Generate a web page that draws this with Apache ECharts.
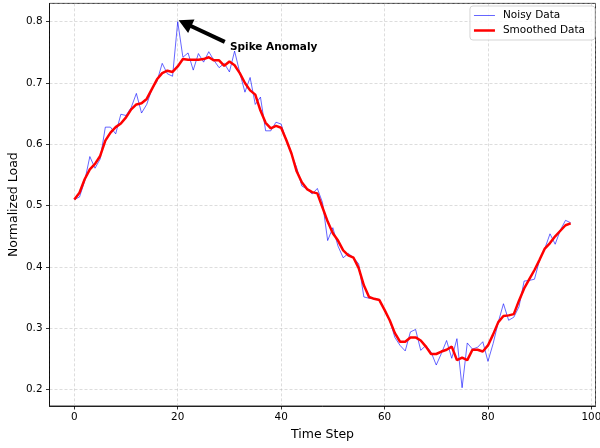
<!DOCTYPE html>
<html>
<head>
<meta charset="utf-8">
<script src="https://cdn.jsdelivr.net/npm/echarts@6.0.0/dist/echarts.min.js"></script>
<style>
  html, body { margin: 0; padding: 0; background: #fff; }
  #main { width: 600px; height: 448px; }
</style>
</head>
<body>
<div id="main"></div>
<script>
// values
var timeSteps = [0, 1, 2, 3, 4, 5, 6, 7, 8, 9, 10, 11, 12, 13, 14, 15, 16, 17, 18, 19,
  20, 21, 22, 23, 24, 25, 26, 27, 28, 29, 30, 31, 32, 33, 34, 35, 36, 37, 38, 39,
  40, 41, 42, 43, 44, 45, 46, 47, 48, 49, 50, 51, 52, 53, 54, 55, 56, 57, 58, 59,
  60, 61, 62, 63, 64, 65, 66, 67, 68, 69, 70, 71, 72, 73, 74, 75, 76, 77, 78, 79,
  80, 81, 82, 83, 84, 85, 86, 87, 88, 89, 90, 91, 92, 93, 94, 95, 96];

var noisyData = [
  0.510, 0.514, 0.540, 0.580, 0.561, 0.576, 0.628, 0.628, 0.617, 0.649,
  0.647, 0.660, 0.683, 0.651, 0.665, 0.690, 0.703, 0.732, 0.715, 0.711,
  0.800, 0.742, 0.749, 0.721, 0.748, 0.734, 0.751, 0.737, 0.725, 0.732,
  0.718, 0.752, 0.717, 0.685, 0.709, 0.665, 0.677, 0.622, 0.622, 0.636,
  0.633, 0.606, 0.584, 0.562, 0.532, 0.527, 0.519, 0.528, 0.505, 0.443,
  0.464, 0.434, 0.415, 0.422, 0.415, 0.405, 0.351, 0.349, 0.348, 0.347,
  0.330, 0.313, 0.285, 0.272, 0.263, 0.294, 0.298, 0.264, 0.272, 0.261,
  0.240, 0.259, 0.280, 0.251, 0.283, 0.203, 0.276, 0.266, 0.269, 0.278,
  0.246, 0.275, 0.310, 0.340, 0.313, 0.318, 0.335, 0.377, 0.378, 0.380,
  0.412, 0.430, 0.454, 0.437, 0.460, 0.476, 0.472
];

var smoothedData = [
  0.510, 0.521, 0.543, 0.559, 0.568, 0.581, 0.606, 0.619, 0.628, 0.634,
  0.644, 0.657, 0.665, 0.667, 0.674, 0.690, 0.706, 0.716, 0.720, 0.718,
  0.727, 0.739, 0.738, 0.738, 0.738, 0.739, 0.742, 0.737, 0.737, 0.728,
  0.735, 0.729, 0.716, 0.700, 0.688, 0.681, 0.655, 0.635, 0.626, 0.630,
  0.627, 0.607, 0.585, 0.556, 0.538, 0.527, 0.522, 0.520, 0.497, 0.474,
  0.455, 0.443, 0.427, 0.419, 0.415, 0.398, 0.370, 0.351, 0.348, 0.346,
  0.330, 0.313, 0.292, 0.278, 0.278, 0.285, 0.285, 0.280, 0.270, 0.258,
  0.258, 0.262, 0.265, 0.270, 0.248, 0.252, 0.248, 0.265, 0.265, 0.262,
  0.272, 0.290, 0.310, 0.320, 0.321, 0.323, 0.345, 0.365, 0.380, 0.395,
  0.412, 0.430, 0.439, 0.450, 0.459, 0.468, 0.471
];

// annotation: text anchor, arrow tail and arrow head (data coords)
var spikeLabel = 'Spike Anomaly';
var spikeTextAt = [30.1, 0.759];
var arrowTail = [29.1, 0.767];
var arrowHead = [21.4, 0.7974];

var font = 'DejaVu Sans';

function pairs(xs, ys) {
  return xs.map(function (x, i) { return [x, ys[i]]; });
}

var myChart = echarts.init(document.getElementById('main'), null, { renderer: 'canvas' });

var option = {
  animation: false,
  backgroundColor: '#fff',
  grid: {
    left: 49.5, right: 4.5, top: 3.4, bottom: 42,
    outerBoundsMode: 'none',
    containLabel: false,
    show: true, borderColor: '#000', borderWidth: 0.8, backgroundColor: 'transparent'
  },
  legend: {
    orient: 'vertical',
    right: 5, top: 6,
    padding: [4, 10, 4, 4],
    itemGap: 4,
    itemWidth: 21, itemHeight: 10,
    backgroundColor: 'rgba(255,255,255,0.8)',
    borderColor: '#d5d5d5', borderWidth: 1, borderRadius: 3,
    textStyle: { fontFamily: font, fontSize: 10.5, color: '#000', padding: [0, 0, 0, 3] },
    data: [
      { name: 'Noisy Data', icon: 'path://M0,0 L42,0 L42,2 L0,2 Z' },
      { name: 'Smoothed Data', icon: 'path://M0,0 L42,0 L42,5 L0,5 Z' }
    ]
  },
  xAxis: {
    type: 'value',
    min: -4.8, max: 100.8,
    splitNumber: 5,
    name: 'Time Step',
    nameLocation: 'middle',
    nameGap: 22,
    nameMoveOverlap: false,
    nameTextStyle: { fontFamily: font, fontSize: 12.5, color: '#000' },
    axisLine: { show: true, onZero: false, lineStyle: { color: '#000', width: 0.8 } },
    axisTick: { show: true, length: 3.5, lineStyle: { color: '#000', width: 0.8 } },
    axisLabel: {
      fontFamily: font, fontSize: 10.4, color: '#000', margin: 6.5,
      showMinLabel: false, showMaxLabel: false,
      formatter: function (v) { return Math.abs(v % 20) < 1e-6 ? String(v) : ''; }
    },
    splitLine: { show: true, lineStyle: { color: 'rgba(176,176,176,0.55)', type: [3, 2], width: 0.8 } }
  },
  yAxis: {
    type: 'value',
    min: 0.1732, max: 0.8298,
    splitNumber: 5,
    name: 'Normalized Load',
    nameLocation: 'middle',
    nameGap: 29,
    nameMoveOverlap: false,
    nameTextStyle: { fontFamily: font, fontSize: 12.5, color: '#000' },
    axisLine: { show: true, onZero: false, lineStyle: { color: '#000', width: 0.8 } },
    axisTick: { show: true, length: 3.5, lineStyle: { color: '#000', width: 0.8 } },
    axisLabel: {
      fontFamily: font, fontSize: 10.4, color: '#000', margin: 7,
      showMinLabel: false, showMaxLabel: false,
      formatter: function (v) {
        var r = Math.round(v * 10) / 10;
        return Math.abs(v - r) < 1e-6 ? r.toFixed(1) : '';
      }
    },
    splitLine: { show: true, lineStyle: { color: 'rgba(176,176,176,0.55)', type: [3, 2], width: 0.8 } }
  },
  series: [
    {
      name: 'Noisy Data',
      type: 'line',
      data: pairs(timeSteps, noisyData),
      symbol: 'none',
      lineStyle: { color: 'rgba(0,0,255,0.6)', width: 1 },
      itemStyle: { color: 'rgba(0,0,255,0.6)' },
      z: 2,
      markLine: {
        silent: true,
        animation: false,
        symbol: ['none', 'triangle'],
        symbolSize: [15, 14],
        label: { show: false },
        lineStyle: { color: '#000', width: 4, type: 'solid' },
        data: [[{ coord: arrowTail }, { coord: arrowHead }]]
      },
      markPoint: {
        silent: true,
        symbol: 'circle',
        symbolSize: 0,
        label: {
          show: true, position: 'right', distance: 0,
          fontFamily: font, fontSize: 10.5, fontWeight: 'bold', color: '#000',
          formatter: spikeLabel
        },
        data: [{ coord: spikeTextAt }]
      }
    },
    {
      name: 'Smoothed Data',
      type: 'line',
      data: pairs(timeSteps, smoothedData),
      symbol: 'none',
      lineStyle: { color: '#ff0000', width: 2.5 },
      itemStyle: { color: '#ff0000' },
      z: 3
    }
  ]
};

myChart.setOption(option);
</script>
</body>
</html>
